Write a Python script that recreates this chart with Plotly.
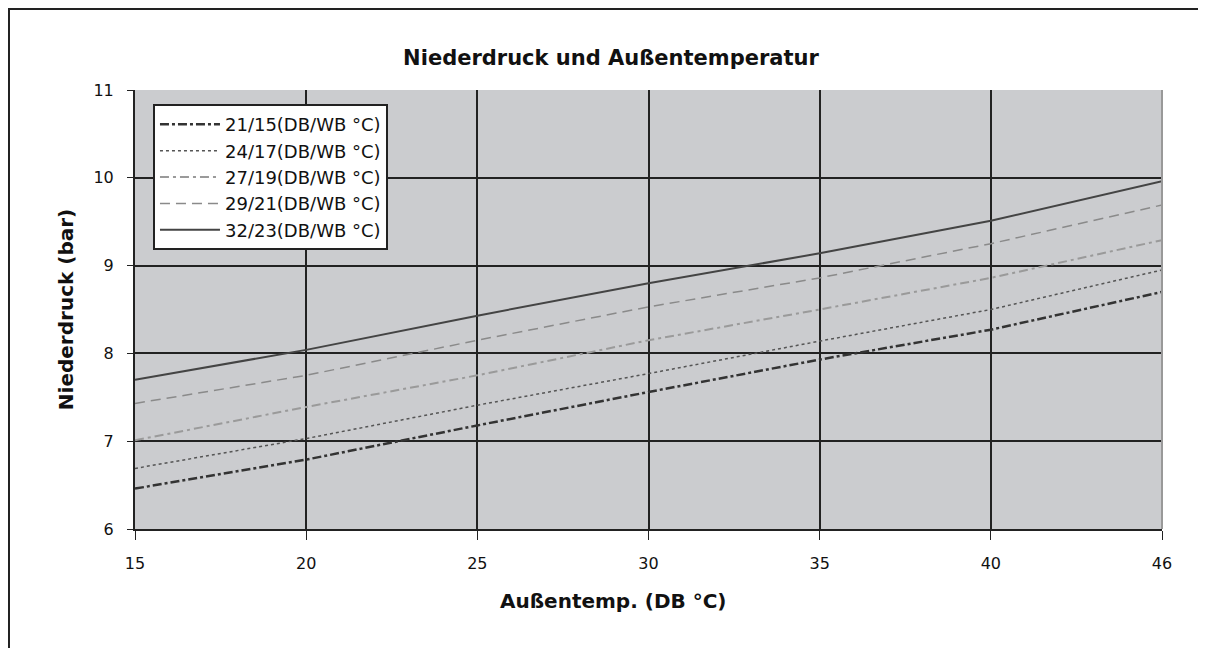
import plotly.graph_objects as go

temps = ["15", "20", "25", "30", "35", "40", "46"]
series_names = ["21/15(DB/WB °C)", "24/17(DB/WB °C)", "27/19(DB/WB °C)",
                "29/21(DB/WB °C)", "32/23(DB/WB °C)"]
s_21_15 = [6.46, 6.79, 7.18, 7.56, 7.93, 8.27, 8.70]
s_24_17 = [6.69, 7.03, 7.41, 7.77, 8.14, 8.50, 8.95]
s_27_19 = [7.01, 7.39, 7.75, 8.15, 8.50, 8.86, 9.29]
s_29_21 = [7.43, 7.75, 8.15, 8.53, 8.86, 9.25, 9.69]
s_32_23 = [7.70, 8.04, 8.43, 8.80, 9.14, 9.51, 9.96]
y_ticks = [6, 7, 8, 9, 10, 11]

styles = [
    dict(color="#333333", width=2.5, dash="9px,3px,3px,3px"),
    dict(color="#555555", width=1.5, dash="3px,3px"),
    dict(color="#9a9a9a", width=2, dash="9px,4px,3px,4px"),
    dict(color="#8a8a8a", width=1.5, dash="10px,6px"),
    dict(color="#444444", width=2),
]

fig = go.Figure()
for name, vals, st in zip(series_names,
                          [s_21_15, s_24_17, s_27_19, s_29_21, s_32_23], styles):
    fig.add_trace(go.Scatter(x=temps, y=vals, mode="lines", name=name, line=st))

font = "DejaVu Sans, Arial, sans-serif"
fig.update_layout(
    width=1206, height=648,
    margin=dict(l=127, r=52, t=82, b=127),
    paper_bgcolor="white",
    plot_bgcolor="#cbcccf",
    font=dict(family=font, color="#111111", size=15),
    title=dict(text="<b>Niederdruck und Außentemperatur</b>",
               x=0.5, xanchor="center", y=0.924, yanchor="middle",
               font=dict(size=21, family=font)),
    xaxis=dict(type="category", range=[0, 6],
               showgrid=True, gridcolor="#222222", gridwidth=2,
               showline=True, linecolor="#222222", linewidth=2,
               ticks="outside", ticklen=9, tickcolor="#222222",
               ticklabelstandoff=10,
               tickfont=dict(size=16),
               zeroline=False),
    yaxis=dict(range=[6, 11], tickvals=y_ticks,
               showgrid=True, gridcolor="#222222", gridwidth=2,
               showline=True, linecolor="#222222", linewidth=2,
               ticks="outside", ticklen=6, tickcolor="#222222",
               ticklabelstandoff=10,
               tickfont=dict(size=16),
               title=dict(text="<b>Niederdruck (bar)</b>", font=dict(size=20),
                          standoff=14),
               zeroline=False),
    legend=dict(x=0.0175, y=0.968, xanchor="left", yanchor="top",
                bgcolor="white", bordercolor="#222222", borderwidth=2,
                font=dict(size=18), tracegroupgap=0, itemwidth=60),
    showlegend=True,
)

# x-axis title (slightly left of centre, as in the original)
fig.add_annotation(text="<b>Außentemp. (DB °C)</b>", xref="paper", yref="paper",
                   x=0.466, y=-0.164, xanchor="center", yanchor="middle",
                   showarrow=False, font=dict(size=20, family=font))

# outer frame around the chart
fig.add_shape(type="rect", xref="paper", yref="paper",
              x0=-0.1227, x1=1.2, y0=-0.4, y1=1.1845,
              line=dict(color="#222222", width=2), fillcolor="rgba(0,0,0,0)",
              layer="below")
# right plot border in gray
fig.add_shape(type="line", xref="paper", yref="paper", x0=1, x1=1, y0=0, y1=1,
              line=dict(color="#999999", width=2))

fig.write_html("out.html")
